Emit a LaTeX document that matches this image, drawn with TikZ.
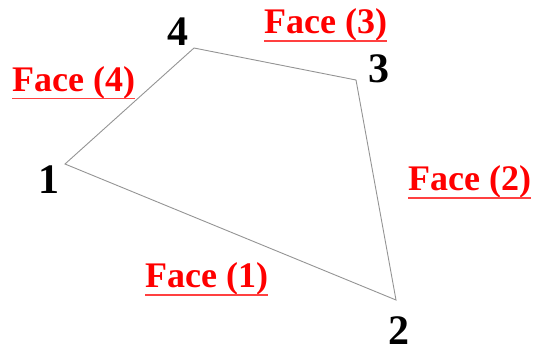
\documentclass[tikz,border=0pt]{standalone}
\usepackage{fontspec}
\setmainfont{Liberation Serif}
\begin{document}
\begin{tikzpicture}[x=1pt,y=-1pt,
  edge/.style={draw=black!42,line width=0.9pt,line join=miter},
  facelbl/.style={anchor=base west,inner sep=0pt,text=red,font=\fontsize{36}{40}\selectfont\bfseries},
  uline/.style={draw=red!75,line width=1.3pt},
  numlbl/.style={anchor=base,inner sep=0pt,font=\fontsize{42}{46}\selectfont\bfseries}]
\useasboundingbox (0,0) rectangle (534,349);
\coordinate (v1) at (65,164);
\coordinate (v2) at (396,300);
\coordinate (v3) at (356,80);
\coordinate (v4) at (194,48);
\draw[edge] (v1) -- (v2) -- (v3) -- (v4) -- cycle;
\node[numlbl] (n1) at (49,193) {1};
\node[numlbl] (n2) at (399,344) {2};
\node[numlbl] (n3) at (379,82) {3};
\node[numlbl] (n4) at (178,45) {4};
\node[facelbl] (f4) at (12,91) {Face (4)};
\node[facelbl] (f3) at (264,33.5) {Face (3)};
\node[facelbl] (f2) at (408,190.5) {Face (2)};
\node[facelbl] (f1) at (145,287.5) {Face (1)};
\foreach \f in {f1,f2,f3,f4}
  \draw[uline] ([yshift=-7.5pt]\f.base west) -- ([yshift=-7.5pt]\f.base east);
\end{tikzpicture}
\end{document}
